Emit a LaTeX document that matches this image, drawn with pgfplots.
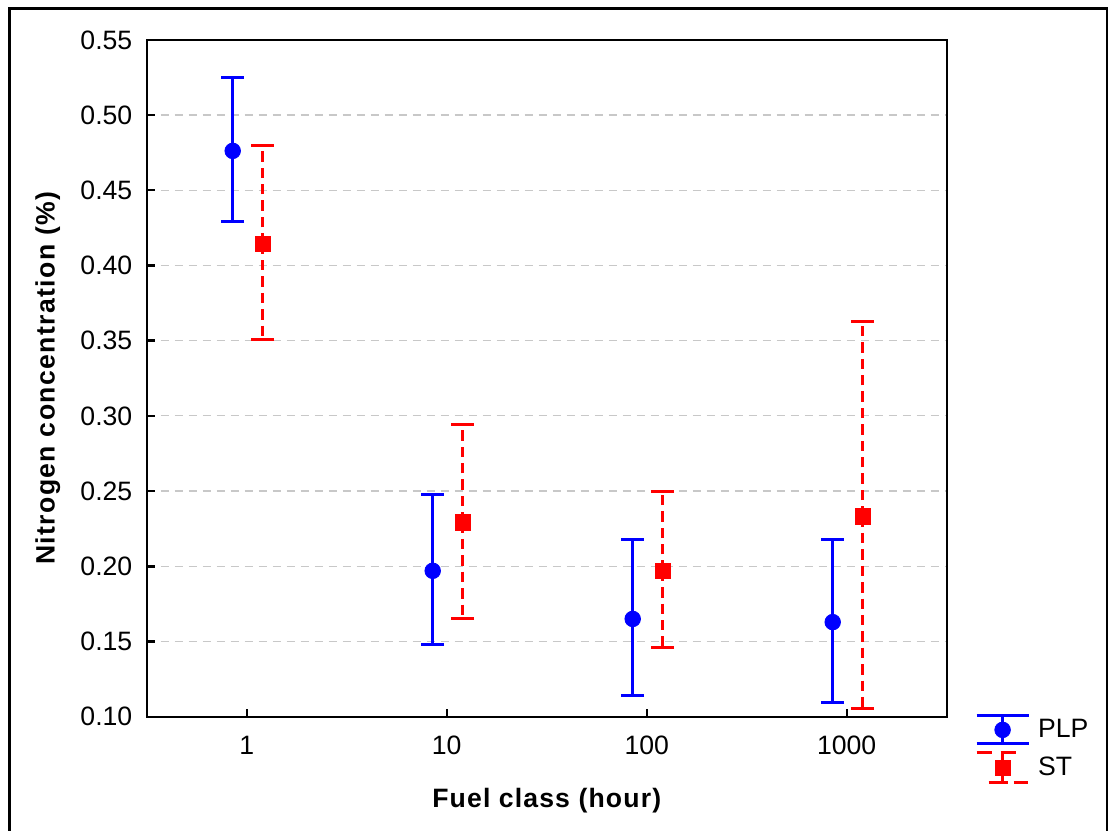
\documentclass[border=0pt]{standalone}
\usepackage{pgfplots}
\pgfplotsset{compat=1.18}
\usepackage{fontspec}
\setmainfont{Liberation Sans}
\newfontfamily\xlabfont[LetterSpace=4.3]{Liberation Sans}
\newfontfamily\ylabfont[LetterSpace=5.2]{Liberation Sans}

\definecolor{plpblue}{RGB}{0,0,255}
\definecolor{stred}{RGB}{255,0,0}
\definecolor{gridgray}{RGB}{200,200,200}

\begin{document}
\fontsize{13.3}{16}\selectfont
\begin{tikzpicture}[x=0.5pt,y=0.5pt]
  \useasboundingbox (0,0) rectangle (1108,830);
  % outer frame (open at the bottom)
  \draw[line width=1.5pt] (9,-20) -- (9,821) -- (1107,821) -- (1107,-20);
  \begin{axis}[
    at={(73.35pt,56.65pt)}, anchor=south west,
    scale only axis, width=400pt, height=338.4pt,
    xmin=-0.5, xmax=3.5, ymin=0.10, ymax=0.55,
    xtick={0,1,2,3}, xticklabels={1,10,100,1000},
    ytick={0.10,0.15,0.20,0.25,0.30,0.35,0.40,0.45,0.50,0.55},
    yticklabels={0.10,0.15,0.20,0.25,0.30,0.35,0.40,0.45,0.50,0.55},
    xtick pos=bottom, ytick pos=left,
    /pgf/number format/assume math mode=true,
    tick label style={font=\fontsize{13.3}{16}\selectfont},
    yticklabel style={xshift=-2.6pt},
    xticklabel style={yshift=-5.1pt},
    major tick length=4pt,
    tick style={black, line width=1.2pt},
    axis line style={line width=1.2pt},
    ymajorgrids,
    grid style={gridgray, line width=0.6pt, dash pattern=on 4pt off 3pt},
    xlabel={\xlabfont\bfseries Fuel class (hour)},
    ylabel={\ylabfont\bfseries Nitrogen concentration (\%)},
    xlabel style={at={(axis description cs:0.5,-0.1246)}, anchor=center, font=\fontsize{13.3}{16}\selectfont},
    ylabel style={at={(axis description cs:-0.1235,0.5)}, anchor=center, font=\fontsize{13.3}{16}\selectfont},
    legend style={at={(axis description cs:1.035,0.004)}, anchor=north west,
      draw=none, fill=none, inner sep=0pt, row sep=3pt, column sep=4pt,
      font=\fontsize{13.3}{16}\selectfont, nodes={inner sep=0pt}},
    legend cell align=left,
  ]
    % PLP: mean with error range
    \addplot[plpblue, only marks, mark=*, mark size=3.9pt,
      legend image code/.code={
        \draw[plpblue, line width=1.5pt] (0pt,-7pt) -- (26pt,-7pt) (0pt,7pt) -- (26pt,7pt)
          (13pt,-7pt) -- (13pt,7pt);
        \fill[plpblue] (13pt,0pt) circle (3.9pt);
      },
      error bars/.cd, y dir=both, y explicit,
      error bar style={plpblue, line width=1.5pt, solid},
      error mark=-, error mark options={plpblue, line width=1.5pt, solid, rotate=90, mark size=5.75pt},
    ]
    coordinates {
      (-0.07,0.4762) += (0,0.0490) -= (0,0.0470)
      (0.93,0.1970)  += (0,0.0510) -= (0,0.0493)
      (1.93,0.1650)  += (0,0.0530) -= (0,0.0510)
      (2.93,0.1629)  += (0,0.0552) -= (0,0.0534)
    };
    \addlegendentry{PLP}
    % ST: mean with error range
    \addplot[stred, only marks, mark=square*, mark size=3.85pt,
      legend image code/.code={
        \draw[stred, line width=1.5pt] (0pt,7.5pt) -- (7.5pt,7.5pt) (12pt,7.5pt) -- (19.5pt,7.5pt)
          (6pt,-7.5pt) -- (15.5pt,-7.5pt) (18.5pt,-7.5pt) -- (25.5pt,-7.5pt)
          (13pt,-7.5pt) -- (13pt,7.5pt);
        \fill[stred] (9.15pt,-3.85pt) rectangle (16.85pt,3.85pt);
      },
      error bars/.cd, y dir=both, y explicit,
      error bar style={stred, line width=1.5pt, dash pattern=on 5.2pt off 3pt},
      error mark=-, error mark options={stred, line width=1.5pt, solid, rotate=90, mark size=5.75pt},
    ]
    coordinates {
      (0.08,0.4145) += (0,0.0650) -= (0,0.0640)
      (1.08,0.2291) += (0,0.0655) -= (0,0.0635)
      (2.08,0.1970) += (0,0.0530) -= (0,0.0510)
      (3.08,0.2331) += (0,0.1295) -= (0,0.1276)
    };
    \addlegendentry{ST}
  \end{axis}
\end{tikzpicture}
\end{document}
